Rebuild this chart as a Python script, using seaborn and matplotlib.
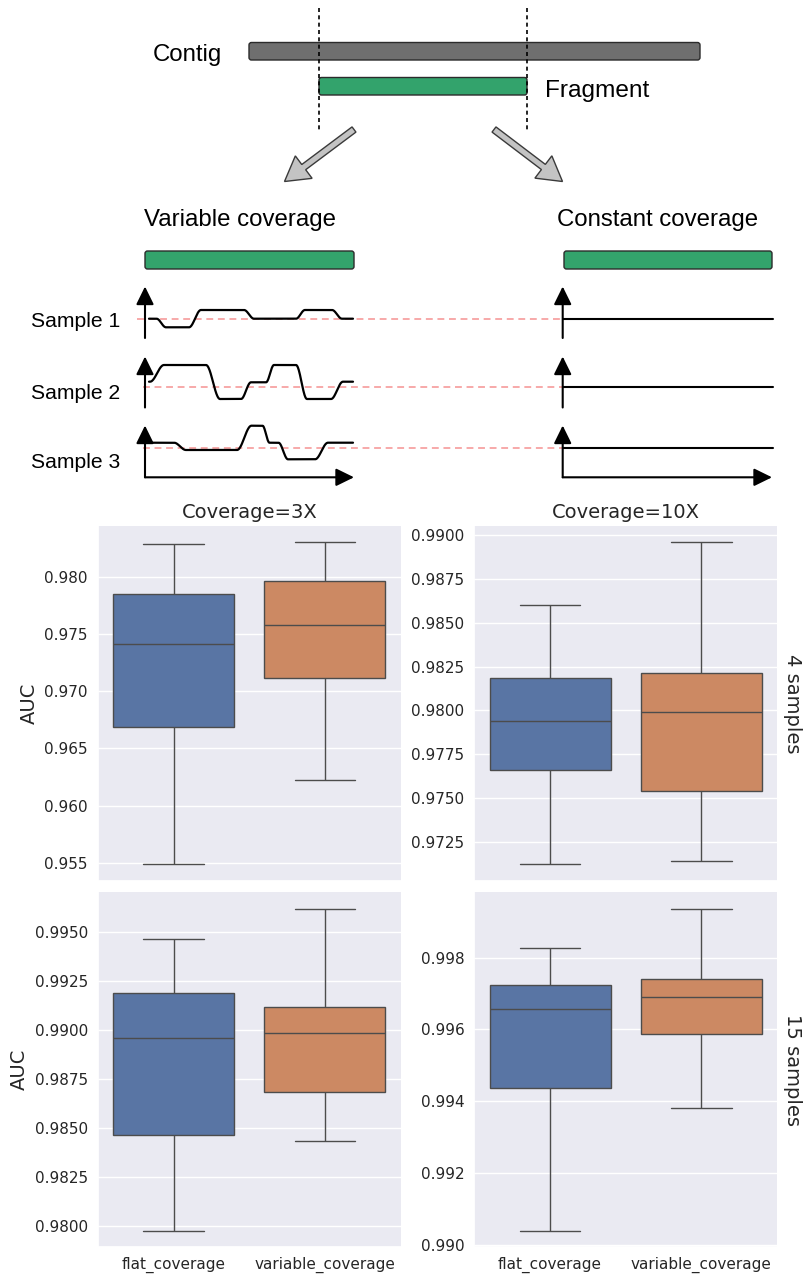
import numpy as np
import pandas as pd
import seaborn as sns
import matplotlib.pyplot as plt
from matplotlib.patches import FancyBboxPatch, FancyArrow

# ---------------------------------------------------------------------------
# AUC results: five-number summaries (min, Q1, median, Q3, max)
# ---------------------------------------------------------------------------
coverages = ["3X", "10X"]
sample_sizes = ["4 samples", "15 samples"]
methods = ["flat_coverage", "variable_coverage"]

auc_3x_4s_flat = [0.95485, 0.96691, 0.97410, 0.97851, 0.98289]
auc_3x_4s_var = [0.96222, 0.97117, 0.97579, 0.97965, 0.98306]
auc_10x_4s_flat = [0.97121, 0.97659, 0.97937, 0.98187, 0.98601]
auc_10x_4s_var = [0.97138, 0.97540, 0.97989, 0.98214, 0.98960]
auc_3x_15s_flat = [0.97974, 0.98464, 0.98957, 0.99187, 0.99464]
auc_3x_15s_var = [0.98435, 0.98682, 0.98983, 0.99117, 0.99619]
auc_10x_15s_flat = [0.99038, 0.99437, 0.99658, 0.99723, 0.99827]
auc_10x_15s_var = [0.99381, 0.99588, 0.99691, 0.99740, 0.99937]

panels = {
    ("3X", "4 samples"): (auc_3x_4s_flat, auc_3x_4s_var),
    ("10X", "4 samples"): (auc_10x_4s_flat, auc_10x_4s_var),
    ("3X", "15 samples"): (auc_3x_15s_flat, auc_3x_15s_var),
    ("10X", "15 samples"): (auc_10x_15s_flat, auc_10x_15s_var),
}

records = []
for (cov, ns), groups in panels.items():
    for method, values in zip(methods, groups):
        for v in values:
            records.append({"Coverage": cov, "samples": ns, "method": method, "AUC": v})
df = pd.DataFrame(records)

# ---------------------------------------------------------------------------
# Box plot grid
# ---------------------------------------------------------------------------
sns.set_theme(style="darkgrid", rc={"axes.labelsize": 14,
                                    "xtick.major.pad": 1.2,
                                    "ytick.major.pad": 1.2})

g = sns.catplot(
    data=df, kind="box", x="method", y="AUC", hue="method",
    col="Coverage", row="samples",
    col_order=coverages, row_order=sample_sizes,
    order=methods, hue_order=methods, palette="deep",
    sharey=False, margin_titles=True, whis=(0, 100), legend=False,
    height=3.6, aspect=0.85,
)
g.set_titles(col_template="Coverage={col_name}", row_template="{row_name}")
g.set_axis_labels("", "AUC")

fig = g.figure
fig.set_size_inches(8.04, 12.74)
fig.subplots_adjust(left=98 / 804, right=777 / 804,
                    bottom=1 - 1247 / 1274, top=1 - 526 / 1274,
                    wspace=0.2446, hspace=0.0338)

# ---------------------------------------------------------------------------
# Schematic: contig / fragment and coverage profiles (pixel-like coordinates)
# ---------------------------------------------------------------------------
W, H = 804, 500
dax = fig.add_axes([0, 1 - H / 1274, 1, H / 1274])
dax.set_xlim(0, W)
dax.set_ylim(H, 0)
dax.axis("off")

font = dict(family="Liberation Sans", color="black")
green = "#33a36c"
edge = "#2b2b2b"


def bar(x0, x1, y0, y1, color):
    dax.add_patch(FancyBboxPatch((x0, y0), x1 - x0, y1 - y0,
                                 boxstyle="round,pad=0,rounding_size=2.5",
                                 fc=color, ec=edge, lw=1.0, zorder=2))


# contig and fragment
bar(249, 700, 42.5, 60, "#6f6f6f")
bar(319, 527, 77.5, 95, green)
dax.text(152.5, 61.5, "Contig", size=17.3, ha="left", va="baseline", **font)
dax.text(545, 96.5, "Fragment", size=17.6, ha="left", va="baseline", **font)

for xv in (319, 527):
    dax.plot([xv, xv], [8, 130], color="black", lw=1.2,
             linestyle=(0, (2.4, 2.0)), zorder=3)

# split arrows
for (xt, yt), (xh, yh) in [((354, 129.5), (284.5, 181.5)),
                           ((494, 129.5), (562.5, 181.5))]:
    dax.add_patch(FancyArrow(xt, yt, xh - xt, yh - yt, width=6.5,
                             head_width=28, head_length=24,
                             length_includes_head=True,
                             fc="#c3c3c3", ec="#3a3a3a", lw=1.0, zorder=2))

# headers and fragment bars
dax.text(144, 226, "Variable coverage", size=17.3, ha="left", va="baseline", **font)
dax.text(557, 226, "Constant coverage", size=17.3, ha="left", va="baseline", **font)
bar(145, 354, 251, 269, green)
bar(564, 772, 251, 269, green)

# per-sample coverage panels
sample_names = ["Sample 1", "Sample 2", "Sample 3"]
label_baselines = [327, 399, 468.5]
axis_tops = [286.5, 356.5, 425.5]
axis_bottoms = [338, 407.5, 477.3]
mean_levels = [318.7, 387, 448.2]

variable_profiles = [
    [(149, 156.5, 318.7), (166, 189, 327.3), (201, 244, 310), (254, 296, 318.7),
     (305, 332, 310), (342, 353, 318.7)],
    [(149, 150, 381.7), (164, 206, 365), (220, 241, 399), (251, 266, 382.3),
     (274, 296, 365), (307, 331, 399), (343, 353, 381.7)],
    [(149, 174, 442.7), (186, 237, 450), (251.5, 262.5, 425.7), (269.5, 278.5, 442.7),
     (288, 315, 459.3), (328, 353, 442.7)],
]
constant_levels = [319, 386.7, 448.3]


def stepped_curve(plateaus, n=40):
    xs, ys = [], []
    for i, (x0, x1, y) in enumerate(plateaus):
        xs += [x0, x1]
        ys += [y, y]
        if i + 1 < len(plateaus):
            nx0, _, ny = plateaus[i + 1]
            t = np.linspace(0, 1, n)[1:-1]
            s = 0.5 - 0.5 * np.cos(np.pi * t)
            xs += list(x1 + (nx0 - x1) * t)
            ys += list(y + (ny - y) * s)
    return xs, ys


def axis_arrow(x0, y0, x1, y1):
    dax.annotate("", xy=(x1, y1), xytext=(x0, y0),
                 arrowprops=dict(arrowstyle="-|>,head_length=0.55,head_width=0.27",
                                 color="black", lw=1.5, mutation_scale=20,
                                 shrinkA=0, shrinkB=0), zorder=4)


left_x, right_x = 145, 562.7
for i, name in enumerate(sample_names):
    dax.text(31, label_baselines[i], name, size=15.2, ha="left", va="baseline", **font)
    # average-coverage reference
    dax.plot([137 if i == 0 else 143, right_x], [mean_levels[i]] * 2,
             color="#f7a3a3", lw=1.3, linestyle=(0, (3.8, 2.6)), zorder=1)
    # axes
    axis_arrow(left_x, axis_bottoms[i], left_x, axis_tops[i])
    axis_arrow(right_x, axis_bottoms[i], right_x, axis_tops[i])
    # profiles
    xs, ys = stepped_curve(variable_profiles[i])
    dax.plot(xs, ys, color="black", lw=1.6, solid_capstyle="round",
             solid_joinstyle="round", zorder=3)
    dax.plot([right_x, 773], [constant_levels[i]] * 2, color="black", lw=1.5, zorder=3)

axis_arrow(left_x, 477.3, 354, 477.3)
axis_arrow(right_x, 477.3, 772, 477.3)

fig.savefig("out.png", dpi=100)
